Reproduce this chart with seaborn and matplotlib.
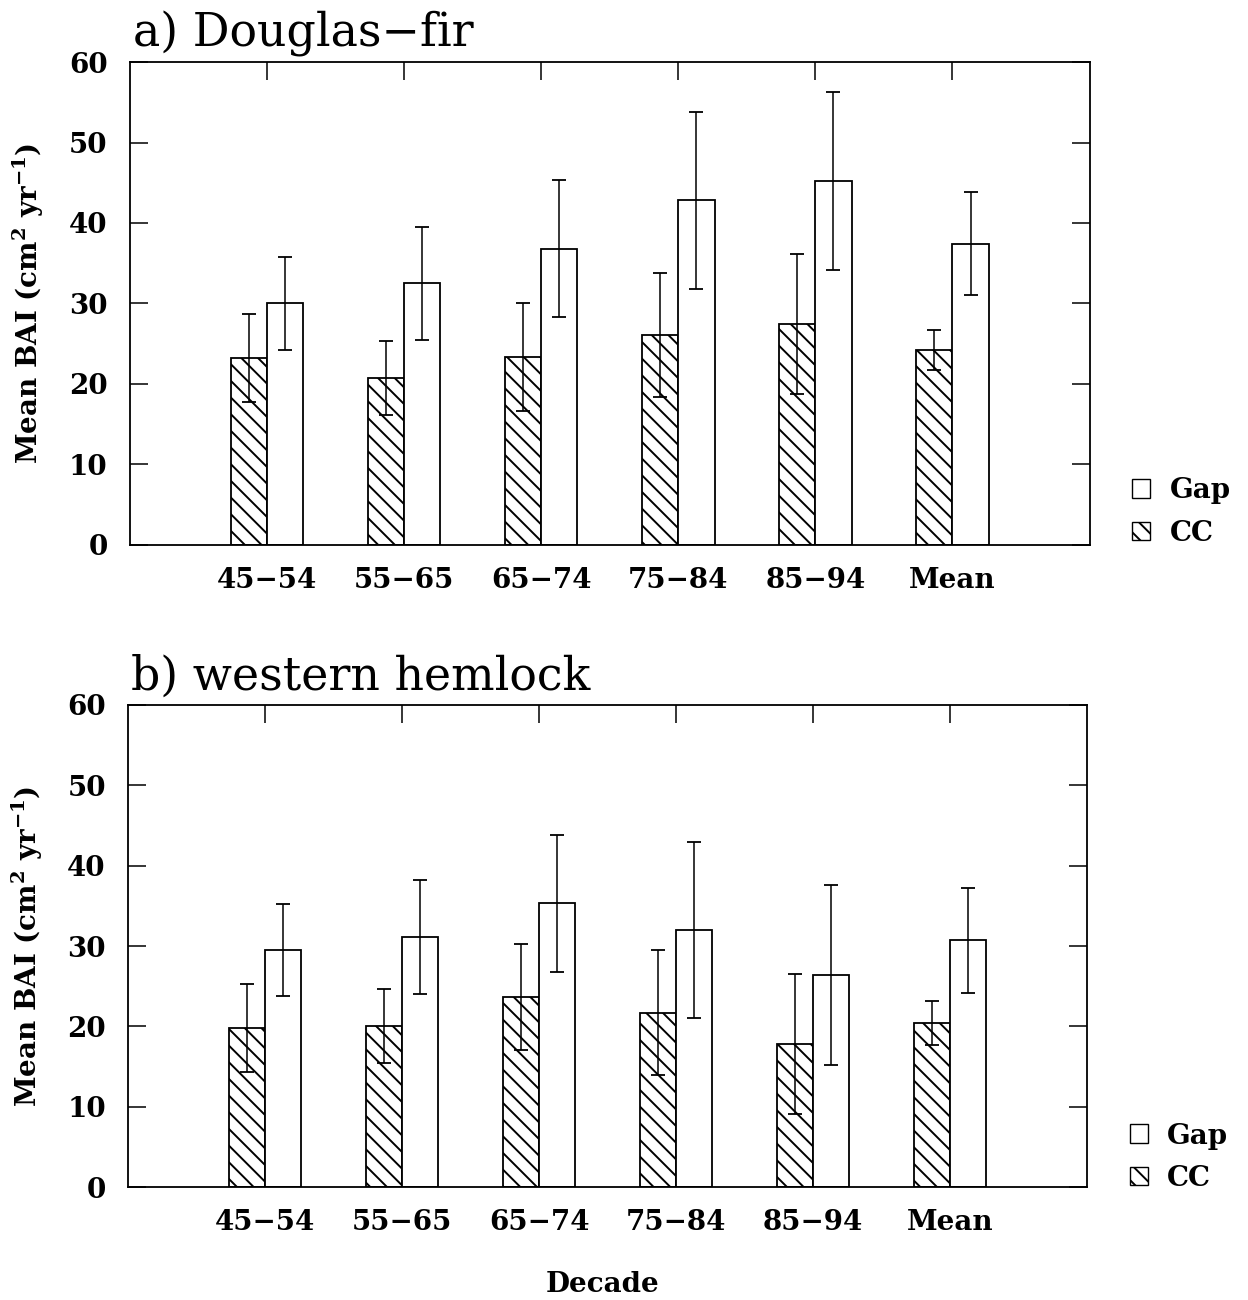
import numpy as np
import pandas as pd
import seaborn as sns
import matplotlib
matplotlib.use("Agg")
import matplotlib.pyplot as plt
import matplotlib.patches as mpatches
from matplotlib.container import BarContainer

###############
# Data        #
###############

decades = ['45\u221254', '55\u221265', '65\u221274', '75\u221284', '85\u221294', 'Mean']
stands = ['CC', 'Gap']

# a) Douglas-fir
df_cc = [23.2, 20.7, 23.4, 26.1, 27.4, 24.2]
df_cc_err = [5.5, 4.6, 6.7, 7.7, 8.7, 2.5]
df_gap = [30.0, 32.5, 36.8, 42.8, 45.2, 37.4]
df_gap_err = [5.8, 7.0, 8.5, 11.0, 11.1, 6.4]

# b) western hemlock
wh_cc = [19.8, 20.1, 23.6, 21.7, 17.8, 20.4]
wh_cc_err = [5.5, 4.6, 6.6, 7.8, 8.7, 2.7]
wh_gap = [29.5, 31.1, 35.3, 32.0, 26.4, 30.7]
wh_gap_err = [5.7, 7.1, 8.5, 11.0, 11.2, 6.5]

###############
# Style       #
###############

sns.set_style("ticks")
plt.rcParams['font.family'] = ['DejaVu Serif']
plt.rcParams['mathtext.fontset'] = 'custom'
plt.rcParams['mathtext.rm'] = 'DejaVu Serif:bold'
plt.rcParams['mathtext.it'] = 'DejaVu Serif:bold'
plt.rcParams['hatch.linewidth'] = 1.4
plt.rcParams['hatch.color'] = 'black'
for key in ['text.color', 'axes.labelcolor', 'xtick.color', 'ytick.color', 'axes.edgecolor']:
    plt.rcParams[key] = 'black'

HATCH = '\\\\'


def long_table(cc, gap):
    rows = []
    for i in range(len(decades)):
        rows.append((decades[i], 'CC', cc[i]))
        rows.append((decades[i], 'Gap', gap[i]))
    return pd.DataFrame(rows, columns=['decade', 'stand', 'bai'])


def draw_panel(ax, cc, cc_err, gap, gap_err, title, leg_y):
    table = long_table(cc, gap)
    sns.barplot(ax=ax, data=table, x='decade', y='bai', hue='stand',
                order=decades, hue_order=stands, errorbar=None,
                width=0.53, palette={'CC': 'white', 'Gap': 'white'},
                legend=False)
    # bars: white face, black edge, CC hatched
    errs = [cc_err, gap_err]
    bar_sets = [c for c in ax.containers if isinstance(c, BarContainer)]
    for k, cont in enumerate(bar_sets):
        xs, ys = [], []
        for bar in cont.patches:
            bar.set_facecolor('white')
            bar.set_edgecolor('black')
            bar.set_linewidth(1.3)
            if stands[k] == 'CC':
                bar.set_hatch(HATCH)
            xs.append(bar.get_x() + bar.get_width() / 2)
            ys.append(bar.get_height())
        ax.errorbar(xs, ys, yerr=errs[k], fmt='none', ecolor='black',
                    elinewidth=1.1, capsize=5, capthick=1.3, zorder=5)

    ax.set_xlim(-1, 6)
    ax.set_ylim(0, 60)
    ax.set_yticks(np.arange(0, 61, 10))
    ax.set_xlabel('')
    ax.set_ylabel('Mean BAI (cm$^{2}$ yr$^{-1}$)', fontsize=20, fontweight='bold')
    ax.yaxis.set_label_coords(-0.087, 0.5)

    ax.tick_params(axis='y', direction='in', length=13, width=1.1,
                   left=True, right=True, labelsize=20, pad=16)
    ax.tick_params(axis='x', direction='in', length=13, width=1.1,
                   top=True, bottom=False, labelsize=20, pad=16)
    for lab in ax.get_xticklabels() + ax.get_yticklabels():
        lab.set_fontweight('bold')
    for sp in ax.spines.values():
        sp.set_visible(True)
        sp.set_linewidth(1.3)
        sp.set_color('black')

    ax.text(0.003, 1.032, title, transform=ax.transAxes, fontsize=33,
            ha='left', va='baseline')

    handles = [mpatches.Patch(facecolor='white', edgecolor='black', linewidth=1.0),
               mpatches.Patch(facecolor='white', edgecolor='black', linewidth=1.0, hatch=HATCH)]
    ax.legend(handles, ['Gap', 'CC'], loc='center left',
              bbox_to_anchor=(1.03, leg_y), frameon=False,
              prop={'size': 20, 'weight': 'bold'},
              handlelength=0.65, handleheight=0.65, handletextpad=0.7,
              labelspacing=0.55, borderpad=0)


fig = plt.figure(figsize=(12.48, 13), dpi=100)
ax_a = fig.add_axes([0.104, 0.5808, 0.769, 0.3715])
ax_b = fig.add_axes([0.1026, 0.0869, 0.7684, 0.3708])

draw_panel(ax_a, df_cc, df_cc_err, df_gap, df_gap_err, 'a) Douglas\u2212fir', 0.068)
draw_panel(ax_b, wh_cc, wh_cc_err, wh_gap, wh_gap_err, 'b) western hemlock', 0.062)

fig.text(0.483, 0.012, 'Decade', ha='center', va='center',
         fontsize=20, fontweight='bold')

fig.savefig('out.png', dpi=100)
plt.close()
